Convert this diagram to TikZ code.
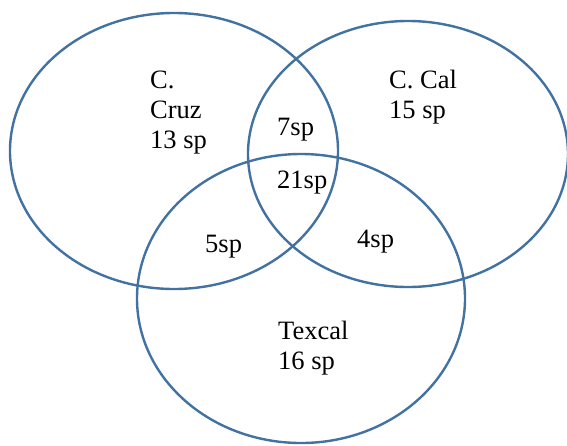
\documentclass[tikz,border=0pt]{standalone}
\usepackage{fontspec}
\setmainfont{Liberation Serif}
\usetikzlibrary{shapes.geometric}
\definecolor{vennblue}{RGB}{66,114,162}
\tikzset{
  venn/.style={ellipse, draw=vennblue, line width=2.4pt, inner sep=0pt},
  lbl/.style={anchor=base west, inner sep=0pt, font=\fontsize{26.5}{30}\selectfont}
}
\begin{document}
\begin{tikzpicture}[x=1pt, y=-1pt]
  \useasboundingbox (0,0) rectangle (567,445);
  % three overlapping sets
  \node[venn, minimum width=328pt, minimum height=276pt] (cruz) at (174,151) {};
  \node[venn, minimum width=320pt, minimum height=266pt] (cal) at (408,154) {};
  \node[venn, minimum width=328pt, minimum height=289pt] (texcal) at (301,298.5) {};
  % labels of the single sets
  \node[lbl] (cruz1) at (150,88) {C.};
  \node[lbl] (cruz2) at (150,118) {Cruz};
  \node[lbl] (cruz3) at (150,148) {13 sp};
  \node[lbl] (cal1) at (389,88) {C. Cal};
  \node[lbl] (cal2) at (389,118) {15 sp};
  \node[lbl] (tex1) at (278,339) {Texcal};
  \node[lbl] (tex2) at (278,369) {16 sp};
  % labels of the overlaps
  \node[lbl] (ab) at (277,135) {7sp};
  \node[lbl] (abc) at (277,188) {21sp};
  \node[lbl] (ac) at (205,252) {5sp};
  \node[lbl] (bc) at (357,247) {4sp};
\end{tikzpicture}
\end{document}
